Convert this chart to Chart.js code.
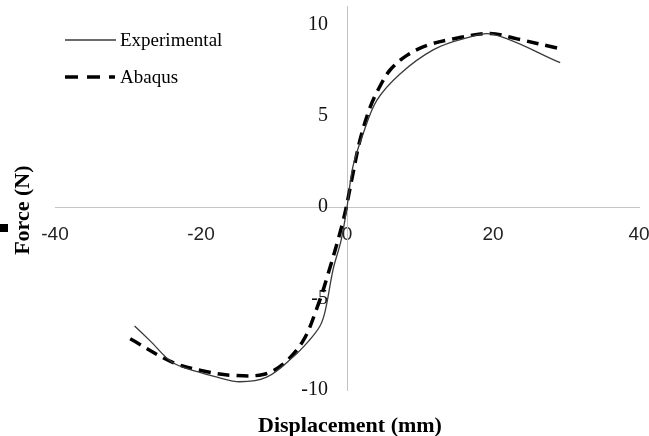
<!DOCTYPE html>
<html>
<head>
<meta charset="utf-8">
<script src="https://cdn.jsdelivr.net/npm/chart.js@4.4.0/dist/chart.umd.min.js"></script>
<style>
  html, body { margin: 0; padding: 0; background: #fff; }
  #wrap { width: 649px; height: 436px; position: relative; }
</style>
</head>
<body>
<div id="wrap"><canvas id="chart"></canvas></div>
<script>
// Values
const expX = [-29.1, -27.0, -23.9, -20.5, -17.8, -14.7, -11.0, -7.4, -5.2, -3.7, -3.0, -1.9, -0.8, 0, 0.8, 2.2, 4.1, 7.3, 11.8, 15.9, 20.0, 29.2];
const expY = [-6.5, -7.3, -8.5, -9.0, -9.3, -9.55, -9.3, -8.2, -7.3, -6.5, -5.7, -3.4, -1.8, 0, 2.2, 4.0, 5.85, 7.3, 8.6, 9.2, 9.45, 7.9];

const abqX = [-29.7, -23.8, -19.2, -15.6, -11.5, -8.8, -6.0, -4.1, -2.7, -0.5, 0.7, 1.8, 3.2, 4.5, 5.9, 8.2, 11.0, 14.5, 19.6, 23.3, 28.8];
const abqY = [-7.2, -8.5, -9.0, -9.2, -9.15, -8.6, -7.3, -5.5, -3.8, -0.7, 1.6, 3.7, 5.5, 6.6, 7.5, 8.3, 8.85, 9.2, 9.5, 9.2, 8.7];

const xTicks = [-40, -20, 0, 20, 40];
const yTicks = [-10, -5, 0, 5, 10];
const seriesNames = ['Experimental', 'Abaqus'];
const xTitle = 'Displacement (mm)';
const yTitle = 'Force (N)';

const serif = "'Liberation Serif', 'Times New Roman', serif";
const sans = "'Liberation Sans', Arial, sans-serif";

function toPoints(xs, ys) {
  return xs.map((x, i) => ({ x: x, y: ys[i] }));
}

// keep the plot area exactly where the layout padding puts it
function noAutoPadding(scale) {
  scale.paddingLeft = 0;
  scale.paddingRight = 0;
  scale.paddingTop = 0;
  scale.paddingBottom = 0;
}

// titles, legend and the little marker left of the y title
const decorations = {
  id: 'decorations',
  afterDraw(chart) {
    const ctx = chart.ctx;
    ctx.save();
    ctx.fillStyle = '#000';

    // axis titles
    ctx.font = 'bold 22px ' + serif;
    ctx.textAlign = 'center';
    ctx.textBaseline = 'middle';
    ctx.fillText(xTitle, chart.scales.x.getPixelForValue(0) + 3, 426);
    ctx.save();
    ctx.translate(23, chart.scales.y.getPixelForValue(0) + 3);
    ctx.rotate(-Math.PI / 2);
    ctx.fillText(yTitle, 0, 0);
    ctx.restore();

    ctx.fillRect(0, 224, 8, 8);

    // legend
    ctx.font = '19px ' + serif;
    ctx.textAlign = 'left';
    chart.data.datasets.forEach((ds, i) => {
      const y = 40 + i * 37;
      ctx.beginPath();
      ctx.strokeStyle = ds.borderColor;
      ctx.lineWidth = ds.borderWidth;
      ctx.setLineDash(ds.borderDash ? [13, 9] : []);
      ctx.moveTo(65, y);
      ctx.lineTo(ds.borderDash ? 115 : 116, y);
      ctx.stroke();
      ctx.setLineDash([]);
      ctx.fillText(ds.label, 120, y + 1);
    });
    ctx.restore();
  }
};

new Chart(document.getElementById('chart'), {
  type: 'scatter',
  data: {
    datasets: [
      {
        label: seriesNames[0],
        data: toPoints(expX, expY),
        showLine: true,
        borderColor: '#3a3a3a',
        borderWidth: 1.3,
        pointRadius: 0,
        tension: 0.35
      },
      {
        label: seriesNames[1],
        data: toPoints(abqX, abqY),
        showLine: true,
        borderColor: '#000',
        borderWidth: 3.5,
        borderDash: [12, 7],
        pointRadius: 0,
        tension: 0.35
      }
    ]
  },
  options: {
    responsive: true,
    maintainAspectRatio: false,
    animation: false,
    layout: { padding: { left: 55, right: 10, top: 6, bottom: 46 } },
    plugins: {
      legend: { display: false },
      tooltip: { enabled: false }
    },
    scales: {
      x: {
        type: 'linear',
        min: -40,
        max: 40,
        position: { y: 0 },
        afterBuildTicks: axis => { axis.ticks = xTicks.map(v => ({ value: v })); },
        afterFit: noAutoPadding,
        grid: { display: false, drawTicks: false },
        border: { display: true, color: '#c4c4c4', width: 1 },
        ticks: { color: '#222', font: { family: sans, size: 19 }, padding: 16, maxRotation: 0 }
      },
      // tick labels sit a little left of the vertical axis line
      y: {
        type: 'linear',
        min: -10,
        max: 11,
        position: { x: -2.6 },
        afterBuildTicks: axis => { axis.ticks = yTicks.map(v => ({ value: v })); },
        afterFit: noAutoPadding,
        grid: { display: false, drawTicks: false },
        border: { display: false },
        ticks: { color: '#111', font: { family: serif, size: 20 }, padding: 0 }
      },
      // the vertical axis line itself, through x = 0
      yLine: {
        type: 'linear',
        min: -10,
        max: 11,
        position: { x: 0 },
        afterFit: noAutoPadding,
        grid: { display: false, drawTicks: false },
        border: { display: true, color: '#c4c4c4', width: 1 },
        ticks: { display: false }
      }
    }
  },
  plugins: [decorations]
});
</script>
</body>
</html>
